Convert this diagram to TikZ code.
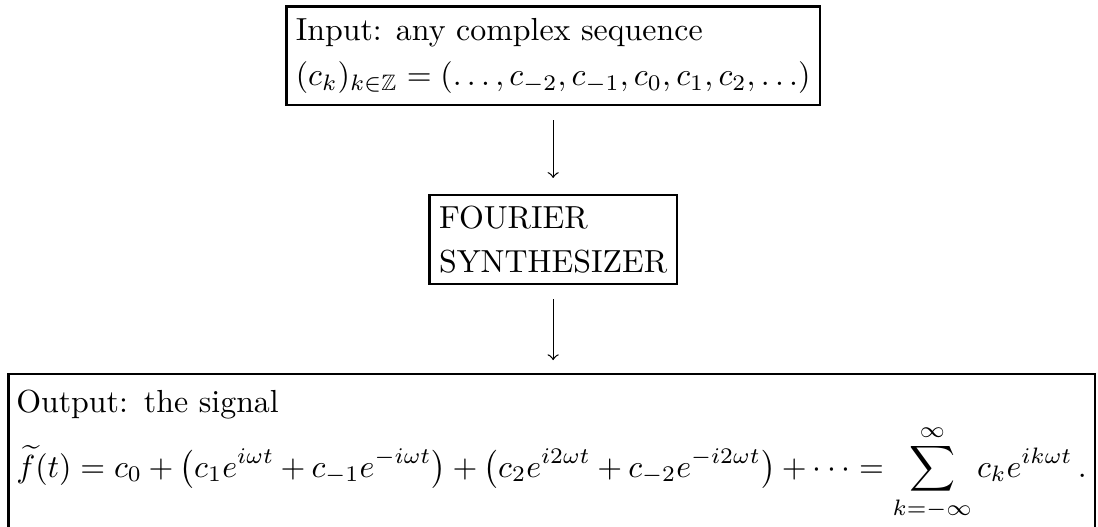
\documentclass[tikz,border=0pt]{standalone}
\usepackage{amsmath,amssymb}
\tikzset{
  box/.style={draw, line width=0.8pt, align=left, inner xsep=3pt},
  flow/.style={-to, line width=0.4pt}
}
\begin{document}
\begin{tikzpicture}[x=1pt,y=1pt]
\useasboundingbox (0,0) rectangle (344.2,-165.2);
\node[box, inner ysep=3.7pt, anchor=north] (in) at (173.4,-1.6)
  {Input: any complex sequence\\[2.1pt] $(c_k)_{k\in\mathbb{Z}} = (\ldots,c_{-2},c_{-1},c_0,c_1,c_2,\ldots)$};
\node[box, inner ysep=3.4pt, anchor=north] (fs) at (173.4,-60.8)
  {FOURIER\\[1.8pt] SYNTHESIZER};
\node[box, inner xsep=2.5pt, inner ysep=3.5pt, text width=335.6pt, anchor=north west] (out) at (2.2,-116.9)
  {\rule{0pt}{8.4pt}Output: the signal\\[0.8pt] $\displaystyle \widetilde{f}(t) = c_0 + \bigl(c_1e^{i\omega t}+c_{-1}e^{-i\omega t}\bigr) + \bigl(c_2e^{i2\omega t}+c_{-2}e^{-i2\omega t}\bigr)+\cdots = \sum_{k=-\infty}^{\infty} c_k e^{ik\omega t}\,.$};
\draw[flow, shorten <=4.4pt, shorten >=5pt] (in.south) -- (fs.north);
\draw[flow, shorten <=4.4pt, shorten >=4pt] (fs.south) -- (out.north -| fs.south);
\end{tikzpicture}
\end{document}
